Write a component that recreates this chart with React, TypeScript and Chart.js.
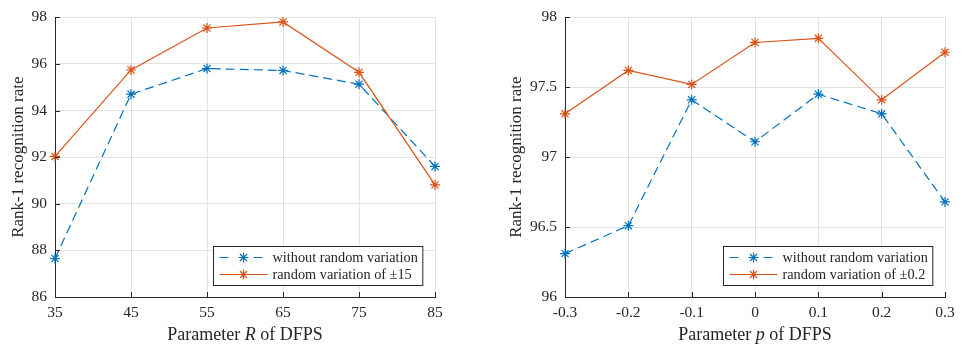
import React, { useEffect, useRef } from "react";
import { Chart, registerables } from "chart.js";
Chart.register(...registerables);

const rLabels = ["35", "45", "55", "65", "75", "85"];
const rWithout = [87.65, 94.7, 95.8, 95.72, 95.13, 91.6];
const rRandom = [92.03, 95.74, 97.54, 97.8, 95.64, 90.81];

const pLabels = ["-0.3", "-0.2", "-0.1", "0", "0.1", "0.2", "0.3"];
const pWithout = [96.31, 96.51, 97.41, 97.11, 97.45, 97.31, 96.68];
const pRandom = [97.31, 97.62, 97.52, 97.82, 97.85, 97.41, 97.75];

const nameWithout = "without random variation";
const nameRandomR = "random variation of \u00b115";
const nameRandomP = "random variation of \u00b10.2";
const yTitle = "Rank-1 recognition rate";

const BLUE = "#0072BD";
const ORANGE = "#D95319";
const AXIS = "#262626";
const GRID = "#e2e2e2";
const FONT = "'Liberation Serif', 'Times New Roman', serif";
const DASH = [9, 5];

type Cfg = {
  width: number;
  yWidth: number;
  padRight: number;
  titlePad: number;
  labels: string[];
  without: number[];
  random: number[];
  randomName: string;
  yMin: number;
  yMax: number;
  yStep: number;
  xTitle: [string, string, string];
};

function makePlugin(cfg: Cfg) {
  return {
    id: "matlabExtras",
    afterDraw(chart: any) {
      const ctx = chart.ctx as CanvasRenderingContext2D;
      const { left, right, top, bottom } = chart.chartArea;
      const xs = chart.scales.x;
      const ys = chart.scales.y;
      ctx.save();
      // inward ticks
      ctx.strokeStyle = AXIS;
      ctx.lineWidth = 1;
      ctx.beginPath();
      for (let i = 0; i < xs.ticks.length; i++) {
        const px = Math.round(xs.getPixelForTick(i)) + 0.5;
        ctx.moveTo(px, bottom);
        ctx.lineTo(px, bottom - 5);
      }
      for (let i = 0; i < ys.ticks.length; i++) {
        const py = Math.round(ys.getPixelForTick(i)) + 0.5;
        ctx.moveTo(left, py);
        ctx.lineTo(left + 5, py);
      }
      ctx.stroke();

      // x-axis title with italic variable
      const [a, b, c] = cfg.xTitle;
      const normal = `18px ${FONT}`;
      const italic = `italic 18px ${FONT}`;
      ctx.font = normal;
      const wa = ctx.measureText(a).width;
      const wc = ctx.measureText(c).width;
      ctx.font = italic;
      const wb = ctx.measureText(b).width;
      const total = wa + wb + wc;
      let tx = (left + right) / 2 - total / 2;
      const ty = 340;
      ctx.fillStyle = AXIS;
      ctx.textBaseline = "alphabetic";
      ctx.textAlign = "left";
      ctx.font = normal;
      ctx.fillText(a, tx, ty);
      tx += wa;
      ctx.font = italic;
      ctx.fillText(b, tx, ty);
      tx += wb;
      ctx.font = normal;
      ctx.fillText(c, tx, ty);

      // legend
      ctx.font = `14.3px ${FONT}`;
      const names = [nameWithout, cfg.randomName];
      const tw = Math.max(...names.map((n) => ctx.measureText(n).width));
      const boxW = 6 + 48 + 5 + tw + 5;
      const boxH = 39;
      const bx = Math.round(right - 13 - boxW) + 0.5;
      const by = Math.round(bottom - 12 - boxH) + 0.5;
      ctx.fillStyle = "#ffffff";
      ctx.fillRect(bx, by, boxW, boxH);
      ctx.strokeStyle = AXIS;
      ctx.lineWidth = 1;
      ctx.strokeRect(bx, by, boxW, boxH);
      const colors = [BLUE, ORANGE];
      const rows = [by + 11, by + 28];
      for (let i = 0; i < 2; i++) {
        const ly = rows[i];
        const lx0 = bx + 6;
        const lx1 = lx0 + 48;
        ctx.strokeStyle = colors[i];
        ctx.lineWidth = 1.2;
        ctx.setLineDash(i === 0 ? DASH : []);
        ctx.beginPath();
        if (i === 0) {
          ctx.moveTo(lx0, ly);
          ctx.lineTo(lx0 + 14, ly);
          ctx.moveTo(lx1 - 14, ly);
          ctx.lineTo(lx1, ly);
        } else {
          ctx.moveTo(lx0, ly);
          ctx.lineTo(lx1, ly);
        }
        ctx.stroke();
        ctx.setLineDash([]);
        // asterisk marker
        const cx = (lx0 + lx1) / 2;
        const r = 5;
        ctx.beginPath();
        for (let k = 0; k < 4; k++) {
          const ang = (k * Math.PI) / 4;
          ctx.moveTo(cx - r * Math.cos(ang), ly - r * Math.sin(ang));
          ctx.lineTo(cx + r * Math.cos(ang), ly + r * Math.sin(ang));
        }
        ctx.stroke();
        ctx.fillStyle = AXIS;
        ctx.textBaseline = "middle";
        ctx.fillText(names[i], lx1 + 5, ly + 1);
      }
      ctx.restore();
    },
  };
}

function Panel({ cfg }: { cfg: Cfg }) {
  const ref = useRef<HTMLCanvasElement | null>(null);
  useEffect(() => {
    if (!ref.current) return;
    const chart = new Chart(ref.current, {
      type: "line",
      data: {
        labels: cfg.labels,
        datasets: [
          {
            label: nameWithout,
            data: cfg.without,
            borderColor: BLUE,
            backgroundColor: BLUE,
            borderWidth: 1.2,
            borderDash: DASH,
            pointStyle: "star",
            pointRadius: 5,
            pointBorderWidth: 1.2,
            pointBorderColor: BLUE,
            tension: 0,
            clip: false,
            order: 2,
          },
          {
            label: cfg.randomName,
            data: cfg.random,
            borderColor: ORANGE,
            backgroundColor: ORANGE,
            borderWidth: 1.2,
            pointStyle: "star",
            pointRadius: 5,
            pointBorderWidth: 1.2,
            pointBorderColor: ORANGE,
            tension: 0,
            clip: false,
            order: 1,
          },
        ],
      },
      options: {
        responsive: false,
        animation: false,
        devicePixelRatio: 1,
        layout: { padding: { left: 0, top: 16, right: cfg.padRight, bottom: 0 } },
        plugins: {
          legend: { display: false },
          tooltip: { enabled: false },
        },
        scales: {
          x: {
            type: "category",
            offset: false,
            grid: { color: GRID, drawTicks: false, offset: false },
            border: { display: true, color: AXIS, width: 1 },
            ticks: {
              color: AXIS,
              padding: 7,
              maxRotation: 0,
              autoSkip: false,
              font: { family: FONT, size: 15.5 },
            },
            afterFit: (s: any) => {
              s.height = 58;
            },
          },
          y: {
            type: "linear",
            min: cfg.yMin,
            max: cfg.yMax,
            grid: { color: GRID, drawTicks: false },
            border: { display: true, color: AXIS, width: 1 },
            ticks: {
              stepSize: cfg.yStep,
              color: AXIS,
              padding: 8,
              font: { family: FONT, size: 15.5 },
              callback: (v: any) => String(Math.round(Number(v) * 10) / 10),
            },
            title: {
              display: true,
              text: yTitle,
              color: AXIS,
              font: { family: FONT, size: 17 },
              padding: { top: cfg.titlePad, bottom: 0 },
            },
            afterFit: (s: any) => {
              s.width = cfg.yWidth;
            },
          },
        },
      },
      plugins: [makePlugin(cfg)],
    } as any);
    return () => chart.destroy();
  }, [cfg]);
  return <canvas ref={ref} width={cfg.width} height={355} style={{ display: "block", width: cfg.width, height: 355 }} />;
}

const leftCfg: Cfg = {
  width: 480,
  yWidth: 55,
  padRight: 45,
  titlePad: 8,
  labels: rLabels,
  without: rWithout,
  random: rRandom,
  randomName: nameRandomR,
  yMin: 86,
  yMax: 98,
  yStep: 2,
  xTitle: ["Parameter ", "R", " of DFPS"],
};

const rightCfg: Cfg = {
  width: 485,
  yWidth: 85,
  padRight: 20,
  titlePad: 26,
  labels: pLabels,
  without: pWithout,
  random: pRandom,
  randomName: nameRandomP,
  yMin: 96,
  yMax: 98,
  yStep: 0.5,
  xTitle: ["Parameter ", "p", " of DFPS"],
};

export default function App() {
  return (
    <div
      style={{
        position: "fixed",
        left: 0,
        top: 0,
        width: 965,
        height: 355,
        background: "#ffffff",
        display: "flex",
      }}
    >
      <Panel cfg={leftCfg} />
      <Panel cfg={rightCfg} />
    </div>
  );
}
